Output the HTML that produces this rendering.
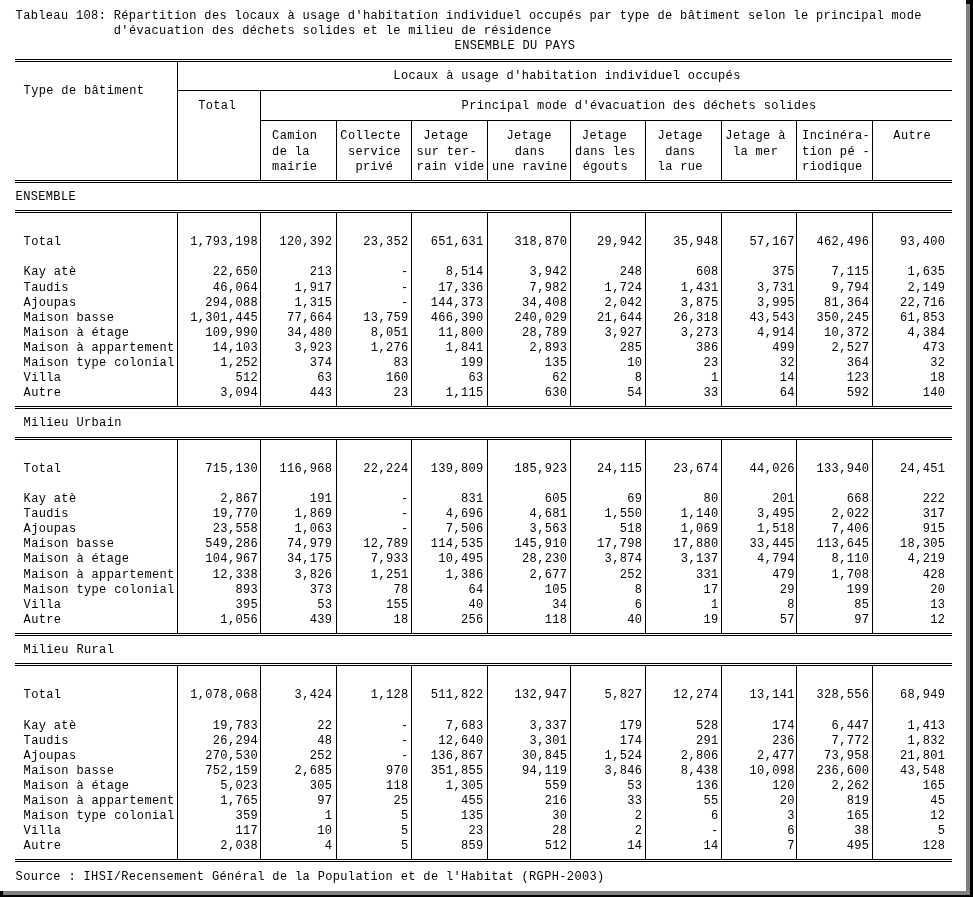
<!DOCTYPE html>
<html lang="fr"><head><meta charset="utf-8"><title>Tableau 108</title>
<style>
html,body{margin:0;padding:0;background:#000;}
body{width:973px;height:897px;position:relative;overflow:hidden;
 font-family:"Liberation Mono",monospace;font-size:12px;letter-spacing:0.35px;line-height:16px;color:#000;}
#sh{position:absolute;left:3px;top:4px;width:967px;height:891px;background:#808080;}
#pg{position:absolute;left:0;top:0;width:966px;height:891px;background:#fff;}
.t{position:absolute;white-space:pre;height:16px;}
.r{width:100px;text-align:right;}
.h{position:absolute;height:1px;background:#000;}
.v{position:absolute;width:1px;background:#000;}
</style></head>
<body>
<div id="sh"></div>
<div id="pg">
<div class="t" style="left:15.60px;top:8.00px">Tableau 108: Répartition des locaux à usage d'habitation individuel occupés par type de bâtiment selon le principal mode</div>
<div class="t" style="left:113.80px;top:23.00px">d'évacuation des déchets solides et le milieu de résidence</div>
<div class="t" style="left:454.60px;top:38.00px">ENSEMBLE DU PAYS</div>
<div class="h" style="left:15px;top:59px;width:937px"></div>
<div class="h" style="left:15px;top:61px;width:937px"></div>
<div class="h" style="left:177px;top:90px;width:775px"></div>
<div class="h" style="left:260px;top:120px;width:692px"></div>
<div class="h" style="left:15px;top:180px;width:937px"></div>
<div class="h" style="left:15px;top:182px;width:937px"></div>
<div class="v" style="left:177px;top:62px;height:118px"></div>
<div class="v" style="left:260px;top:90px;height:90px"></div>
<div class="v" style="left:336px;top:120px;height:60px"></div>
<div class="v" style="left:411px;top:120px;height:60px"></div>
<div class="v" style="left:487px;top:120px;height:60px"></div>
<div class="v" style="left:570px;top:120px;height:60px"></div>
<div class="v" style="left:645px;top:120px;height:60px"></div>
<div class="v" style="left:721px;top:120px;height:60px"></div>
<div class="v" style="left:796px;top:120px;height:60px"></div>
<div class="v" style="left:872px;top:120px;height:60px"></div>
<div class="t" style="left:23.60px;top:83.00px">Type de bâtiment</div>
<div class="t" style="left:198.20px;top:98.00px">Total</div>
<div class="t" style="left:393.35px;top:68.00px">Locaux à usage d'habitation individuel occupés</div>
<div class="t" style="left:461.60px;top:98.00px">Principal mode d'évacuation des déchets solides</div>
<div class="t" style="left:272.10px;top:128.00px">Camion</div>
<div class="t" style="left:272.10px;top:144.00px">de la</div>
<div class="t" style="left:272.10px;top:159.00px">mairie</div>
<div class="t" style="left:340.35px;top:128.00px">Collecte</div>
<div class="t" style="left:347.90px;top:144.00px">service</div>
<div class="t" style="left:355.45px;top:159.00px">privé</div>
<div class="t" style="left:423.35px;top:128.00px">Jetage</div>
<div class="t" style="left:416.60px;top:144.00px">sur ter-</div>
<div class="t" style="left:416.60px;top:159.00px">rain vide</div>
<div class="t" style="left:506.40px;top:128.00px">Jetage</div>
<div class="t" style="left:514.75px;top:144.00px">dans</div>
<div class="t" style="left:492.10px;top:159.00px">une ravine</div>
<div class="t" style="left:581.85px;top:128.00px">Jetage</div>
<div class="t" style="left:575.10px;top:144.00px">dans les</div>
<div class="t" style="left:582.65px;top:159.00px">égouts</div>
<div class="t" style="left:657.60px;top:128.00px">Jetage</div>
<div class="t" style="left:665.15px;top:144.00px">dans</div>
<div class="t" style="left:657.60px;top:159.00px">la rue</div>
<div class="t" style="left:725.35px;top:128.00px">Jetage à</div>
<div class="t" style="left:732.90px;top:144.00px">la mer</div>
<div class="t" style="left:802.10px;top:128.00px">Incinéra-</div>
<div class="t" style="left:802.10px;top:144.00px">tion pé -</div>
<div class="t" style="left:802.10px;top:159.00px">riodique</div>
<div class="t" style="left:893.35px;top:128.00px">Autre</div>
<div class="t" style="left:15.60px;top:189.00px">ENSEMBLE</div>
<div class="h" style="left:15px;top:210px;width:937px"></div>
<div class="h" style="left:15px;top:212px;width:937px"></div>
<div class="v" style="left:177px;top:212px;height:194px"></div>
<div class="v" style="left:260px;top:212px;height:194px"></div>
<div class="v" style="left:336px;top:212px;height:194px"></div>
<div class="v" style="left:411px;top:212px;height:194px"></div>
<div class="v" style="left:487px;top:212px;height:194px"></div>
<div class="v" style="left:570px;top:212px;height:194px"></div>
<div class="v" style="left:645px;top:212px;height:194px"></div>
<div class="v" style="left:721px;top:212px;height:194px"></div>
<div class="v" style="left:796px;top:212px;height:194px"></div>
<div class="v" style="left:872px;top:212px;height:194px"></div>
<div class="h" style="left:15px;top:406px;width:937px"></div>
<div class="h" style="left:15px;top:408px;width:937px"></div>
<div class="t" style="left:23.60px;top:234.00px">Total</div>
<div class="t r" style="left:158.10px;top:234.00px">1,793,198</div>
<div class="t r" style="left:232.35px;top:234.00px">120,392</div>
<div class="t r" style="left:308.60px;top:234.00px">23,352</div>
<div class="t r" style="left:383.60px;top:234.00px">651,631</div>
<div class="t r" style="left:467.35px;top:234.00px">318,870</div>
<div class="t r" style="left:542.35px;top:234.00px">29,942</div>
<div class="t r" style="left:618.60px;top:234.00px">35,948</div>
<div class="t r" style="left:694.85px;top:234.00px">57,167</div>
<div class="t r" style="left:769.35px;top:234.00px">462,496</div>
<div class="t r" style="left:845.35px;top:234.00px">93,400</div>
<div class="t" style="left:23.60px;top:264.00px">Kay atè</div>
<div class="t r" style="left:158.10px;top:264.00px">22,650</div>
<div class="t r" style="left:232.35px;top:264.00px">213</div>
<div class="t r" style="left:308.60px;top:264.00px">-</div>
<div class="t r" style="left:383.60px;top:264.00px">8,514</div>
<div class="t r" style="left:467.35px;top:264.00px">3,942</div>
<div class="t r" style="left:542.35px;top:264.00px">248</div>
<div class="t r" style="left:618.60px;top:264.00px">608</div>
<div class="t r" style="left:694.85px;top:264.00px">375</div>
<div class="t r" style="left:769.35px;top:264.00px">7,115</div>
<div class="t r" style="left:845.35px;top:264.00px">1,635</div>
<div class="t" style="left:23.60px;top:280.00px">Taudis</div>
<div class="t r" style="left:158.10px;top:280.00px">46,064</div>
<div class="t r" style="left:232.35px;top:280.00px">1,917</div>
<div class="t r" style="left:308.60px;top:280.00px">-</div>
<div class="t r" style="left:383.60px;top:280.00px">17,336</div>
<div class="t r" style="left:467.35px;top:280.00px">7,982</div>
<div class="t r" style="left:542.35px;top:280.00px">1,724</div>
<div class="t r" style="left:618.60px;top:280.00px">1,431</div>
<div class="t r" style="left:694.85px;top:280.00px">3,731</div>
<div class="t r" style="left:769.35px;top:280.00px">9,794</div>
<div class="t r" style="left:845.35px;top:280.00px">2,149</div>
<div class="t" style="left:23.60px;top:295.00px">Ajoupas</div>
<div class="t r" style="left:158.10px;top:295.00px">294,088</div>
<div class="t r" style="left:232.35px;top:295.00px">1,315</div>
<div class="t r" style="left:308.60px;top:295.00px">-</div>
<div class="t r" style="left:383.60px;top:295.00px">144,373</div>
<div class="t r" style="left:467.35px;top:295.00px">34,408</div>
<div class="t r" style="left:542.35px;top:295.00px">2,042</div>
<div class="t r" style="left:618.60px;top:295.00px">3,875</div>
<div class="t r" style="left:694.85px;top:295.00px">3,995</div>
<div class="t r" style="left:769.35px;top:295.00px">81,364</div>
<div class="t r" style="left:845.35px;top:295.00px">22,716</div>
<div class="t" style="left:23.60px;top:310.00px">Maison basse</div>
<div class="t r" style="left:158.10px;top:310.00px">1,301,445</div>
<div class="t r" style="left:232.35px;top:310.00px">77,664</div>
<div class="t r" style="left:308.60px;top:310.00px">13,759</div>
<div class="t r" style="left:383.60px;top:310.00px">466,390</div>
<div class="t r" style="left:467.35px;top:310.00px">240,029</div>
<div class="t r" style="left:542.35px;top:310.00px">21,644</div>
<div class="t r" style="left:618.60px;top:310.00px">26,318</div>
<div class="t r" style="left:694.85px;top:310.00px">43,543</div>
<div class="t r" style="left:769.35px;top:310.00px">350,245</div>
<div class="t r" style="left:845.35px;top:310.00px">61,853</div>
<div class="t" style="left:23.60px;top:325.00px">Maison à étage</div>
<div class="t r" style="left:158.10px;top:325.00px">109,990</div>
<div class="t r" style="left:232.35px;top:325.00px">34,480</div>
<div class="t r" style="left:308.60px;top:325.00px">8,051</div>
<div class="t r" style="left:383.60px;top:325.00px">11,800</div>
<div class="t r" style="left:467.35px;top:325.00px">28,789</div>
<div class="t r" style="left:542.35px;top:325.00px">3,927</div>
<div class="t r" style="left:618.60px;top:325.00px">3,273</div>
<div class="t r" style="left:694.85px;top:325.00px">4,914</div>
<div class="t r" style="left:769.35px;top:325.00px">10,372</div>
<div class="t r" style="left:845.35px;top:325.00px">4,384</div>
<div class="t" style="left:23.60px;top:340.00px">Maison à appartement</div>
<div class="t r" style="left:158.10px;top:340.00px">14,103</div>
<div class="t r" style="left:232.35px;top:340.00px">3,923</div>
<div class="t r" style="left:308.60px;top:340.00px">1,276</div>
<div class="t r" style="left:383.60px;top:340.00px">1,841</div>
<div class="t r" style="left:467.35px;top:340.00px">2,893</div>
<div class="t r" style="left:542.35px;top:340.00px">285</div>
<div class="t r" style="left:618.60px;top:340.00px">386</div>
<div class="t r" style="left:694.85px;top:340.00px">499</div>
<div class="t r" style="left:769.35px;top:340.00px">2,527</div>
<div class="t r" style="left:845.35px;top:340.00px">473</div>
<div class="t" style="left:23.60px;top:355.00px">Maison type colonial</div>
<div class="t r" style="left:158.10px;top:355.00px">1,252</div>
<div class="t r" style="left:232.35px;top:355.00px">374</div>
<div class="t r" style="left:308.60px;top:355.00px">83</div>
<div class="t r" style="left:383.60px;top:355.00px">199</div>
<div class="t r" style="left:467.35px;top:355.00px">135</div>
<div class="t r" style="left:542.35px;top:355.00px">10</div>
<div class="t r" style="left:618.60px;top:355.00px">23</div>
<div class="t r" style="left:694.85px;top:355.00px">32</div>
<div class="t r" style="left:769.35px;top:355.00px">364</div>
<div class="t r" style="left:845.35px;top:355.00px">32</div>
<div class="t" style="left:23.60px;top:370.00px">Villa</div>
<div class="t r" style="left:158.10px;top:370.00px">512</div>
<div class="t r" style="left:232.35px;top:370.00px">63</div>
<div class="t r" style="left:308.60px;top:370.00px">160</div>
<div class="t r" style="left:383.60px;top:370.00px">63</div>
<div class="t r" style="left:467.35px;top:370.00px">62</div>
<div class="t r" style="left:542.35px;top:370.00px">8</div>
<div class="t r" style="left:618.60px;top:370.00px">1</div>
<div class="t r" style="left:694.85px;top:370.00px">14</div>
<div class="t r" style="left:769.35px;top:370.00px">123</div>
<div class="t r" style="left:845.35px;top:370.00px">18</div>
<div class="t" style="left:23.60px;top:385.00px">Autre</div>
<div class="t r" style="left:158.10px;top:385.00px">3,094</div>
<div class="t r" style="left:232.35px;top:385.00px">443</div>
<div class="t r" style="left:308.60px;top:385.00px">23</div>
<div class="t r" style="left:383.60px;top:385.00px">1,115</div>
<div class="t r" style="left:467.35px;top:385.00px">630</div>
<div class="t r" style="left:542.35px;top:385.00px">54</div>
<div class="t r" style="left:618.60px;top:385.00px">33</div>
<div class="t r" style="left:694.85px;top:385.00px">64</div>
<div class="t r" style="left:769.35px;top:385.00px">592</div>
<div class="t r" style="left:845.35px;top:385.00px">140</div>
<div class="t" style="left:23.60px;top:415.00px">Milieu Urbain</div>
<div class="h" style="left:15px;top:437px;width:937px"></div>
<div class="h" style="left:15px;top:439px;width:937px"></div>
<div class="v" style="left:177px;top:439px;height:194px"></div>
<div class="v" style="left:260px;top:439px;height:194px"></div>
<div class="v" style="left:336px;top:439px;height:194px"></div>
<div class="v" style="left:411px;top:439px;height:194px"></div>
<div class="v" style="left:487px;top:439px;height:194px"></div>
<div class="v" style="left:570px;top:439px;height:194px"></div>
<div class="v" style="left:645px;top:439px;height:194px"></div>
<div class="v" style="left:721px;top:439px;height:194px"></div>
<div class="v" style="left:796px;top:439px;height:194px"></div>
<div class="v" style="left:872px;top:439px;height:194px"></div>
<div class="h" style="left:15px;top:633px;width:937px"></div>
<div class="h" style="left:15px;top:635px;width:937px"></div>
<div class="t" style="left:23.60px;top:461.00px">Total</div>
<div class="t r" style="left:158.10px;top:461.00px">715,130</div>
<div class="t r" style="left:232.35px;top:461.00px">116,968</div>
<div class="t r" style="left:308.60px;top:461.00px">22,224</div>
<div class="t r" style="left:383.60px;top:461.00px">139,809</div>
<div class="t r" style="left:467.35px;top:461.00px">185,923</div>
<div class="t r" style="left:542.35px;top:461.00px">24,115</div>
<div class="t r" style="left:618.60px;top:461.00px">23,674</div>
<div class="t r" style="left:694.85px;top:461.00px">44,026</div>
<div class="t r" style="left:769.35px;top:461.00px">133,940</div>
<div class="t r" style="left:845.35px;top:461.00px">24,451</div>
<div class="t" style="left:23.60px;top:491.00px">Kay atè</div>
<div class="t r" style="left:158.10px;top:491.00px">2,867</div>
<div class="t r" style="left:232.35px;top:491.00px">191</div>
<div class="t r" style="left:308.60px;top:491.00px">-</div>
<div class="t r" style="left:383.60px;top:491.00px">831</div>
<div class="t r" style="left:467.35px;top:491.00px">605</div>
<div class="t r" style="left:542.35px;top:491.00px">69</div>
<div class="t r" style="left:618.60px;top:491.00px">80</div>
<div class="t r" style="left:694.85px;top:491.00px">201</div>
<div class="t r" style="left:769.35px;top:491.00px">668</div>
<div class="t r" style="left:845.35px;top:491.00px">222</div>
<div class="t" style="left:23.60px;top:506.00px">Taudis</div>
<div class="t r" style="left:158.10px;top:506.00px">19,770</div>
<div class="t r" style="left:232.35px;top:506.00px">1,869</div>
<div class="t r" style="left:308.60px;top:506.00px">-</div>
<div class="t r" style="left:383.60px;top:506.00px">4,696</div>
<div class="t r" style="left:467.35px;top:506.00px">4,681</div>
<div class="t r" style="left:542.35px;top:506.00px">1,550</div>
<div class="t r" style="left:618.60px;top:506.00px">1,140</div>
<div class="t r" style="left:694.85px;top:506.00px">3,495</div>
<div class="t r" style="left:769.35px;top:506.00px">2,022</div>
<div class="t r" style="left:845.35px;top:506.00px">317</div>
<div class="t" style="left:23.60px;top:521.00px">Ajoupas</div>
<div class="t r" style="left:158.10px;top:521.00px">23,558</div>
<div class="t r" style="left:232.35px;top:521.00px">1,063</div>
<div class="t r" style="left:308.60px;top:521.00px">-</div>
<div class="t r" style="left:383.60px;top:521.00px">7,506</div>
<div class="t r" style="left:467.35px;top:521.00px">3,563</div>
<div class="t r" style="left:542.35px;top:521.00px">518</div>
<div class="t r" style="left:618.60px;top:521.00px">1,069</div>
<div class="t r" style="left:694.85px;top:521.00px">1,518</div>
<div class="t r" style="left:769.35px;top:521.00px">7,406</div>
<div class="t r" style="left:845.35px;top:521.00px">915</div>
<div class="t" style="left:23.60px;top:536.00px">Maison basse</div>
<div class="t r" style="left:158.10px;top:536.00px">549,286</div>
<div class="t r" style="left:232.35px;top:536.00px">74,979</div>
<div class="t r" style="left:308.60px;top:536.00px">12,789</div>
<div class="t r" style="left:383.60px;top:536.00px">114,535</div>
<div class="t r" style="left:467.35px;top:536.00px">145,910</div>
<div class="t r" style="left:542.35px;top:536.00px">17,798</div>
<div class="t r" style="left:618.60px;top:536.00px">17,880</div>
<div class="t r" style="left:694.85px;top:536.00px">33,445</div>
<div class="t r" style="left:769.35px;top:536.00px">113,645</div>
<div class="t r" style="left:845.35px;top:536.00px">18,305</div>
<div class="t" style="left:23.60px;top:551.00px">Maison à étage</div>
<div class="t r" style="left:158.10px;top:551.00px">104,967</div>
<div class="t r" style="left:232.35px;top:551.00px">34,175</div>
<div class="t r" style="left:308.60px;top:551.00px">7,933</div>
<div class="t r" style="left:383.60px;top:551.00px">10,495</div>
<div class="t r" style="left:467.35px;top:551.00px">28,230</div>
<div class="t r" style="left:542.35px;top:551.00px">3,874</div>
<div class="t r" style="left:618.60px;top:551.00px">3,137</div>
<div class="t r" style="left:694.85px;top:551.00px">4,794</div>
<div class="t r" style="left:769.35px;top:551.00px">8,110</div>
<div class="t r" style="left:845.35px;top:551.00px">4,219</div>
<div class="t" style="left:23.60px;top:567.00px">Maison à appartement</div>
<div class="t r" style="left:158.10px;top:567.00px">12,338</div>
<div class="t r" style="left:232.35px;top:567.00px">3,826</div>
<div class="t r" style="left:308.60px;top:567.00px">1,251</div>
<div class="t r" style="left:383.60px;top:567.00px">1,386</div>
<div class="t r" style="left:467.35px;top:567.00px">2,677</div>
<div class="t r" style="left:542.35px;top:567.00px">252</div>
<div class="t r" style="left:618.60px;top:567.00px">331</div>
<div class="t r" style="left:694.85px;top:567.00px">479</div>
<div class="t r" style="left:769.35px;top:567.00px">1,708</div>
<div class="t r" style="left:845.35px;top:567.00px">428</div>
<div class="t" style="left:23.60px;top:582.00px">Maison type colonial</div>
<div class="t r" style="left:158.10px;top:582.00px">893</div>
<div class="t r" style="left:232.35px;top:582.00px">373</div>
<div class="t r" style="left:308.60px;top:582.00px">78</div>
<div class="t r" style="left:383.60px;top:582.00px">64</div>
<div class="t r" style="left:467.35px;top:582.00px">105</div>
<div class="t r" style="left:542.35px;top:582.00px">8</div>
<div class="t r" style="left:618.60px;top:582.00px">17</div>
<div class="t r" style="left:694.85px;top:582.00px">29</div>
<div class="t r" style="left:769.35px;top:582.00px">199</div>
<div class="t r" style="left:845.35px;top:582.00px">20</div>
<div class="t" style="left:23.60px;top:597.00px">Villa</div>
<div class="t r" style="left:158.10px;top:597.00px">395</div>
<div class="t r" style="left:232.35px;top:597.00px">53</div>
<div class="t r" style="left:308.60px;top:597.00px">155</div>
<div class="t r" style="left:383.60px;top:597.00px">40</div>
<div class="t r" style="left:467.35px;top:597.00px">34</div>
<div class="t r" style="left:542.35px;top:597.00px">6</div>
<div class="t r" style="left:618.60px;top:597.00px">1</div>
<div class="t r" style="left:694.85px;top:597.00px">8</div>
<div class="t r" style="left:769.35px;top:597.00px">85</div>
<div class="t r" style="left:845.35px;top:597.00px">13</div>
<div class="t" style="left:23.60px;top:612.00px">Autre</div>
<div class="t r" style="left:158.10px;top:612.00px">1,056</div>
<div class="t r" style="left:232.35px;top:612.00px">439</div>
<div class="t r" style="left:308.60px;top:612.00px">18</div>
<div class="t r" style="left:383.60px;top:612.00px">256</div>
<div class="t r" style="left:467.35px;top:612.00px">118</div>
<div class="t r" style="left:542.35px;top:612.00px">40</div>
<div class="t r" style="left:618.60px;top:612.00px">19</div>
<div class="t r" style="left:694.85px;top:612.00px">57</div>
<div class="t r" style="left:769.35px;top:612.00px">97</div>
<div class="t r" style="left:845.35px;top:612.00px">12</div>
<div class="t" style="left:23.60px;top:642.00px">Milieu Rural</div>
<div class="h" style="left:15px;top:663px;width:937px"></div>
<div class="h" style="left:15px;top:665px;width:937px"></div>
<div class="v" style="left:177px;top:665px;height:194px"></div>
<div class="v" style="left:260px;top:665px;height:194px"></div>
<div class="v" style="left:336px;top:665px;height:194px"></div>
<div class="v" style="left:411px;top:665px;height:194px"></div>
<div class="v" style="left:487px;top:665px;height:194px"></div>
<div class="v" style="left:570px;top:665px;height:194px"></div>
<div class="v" style="left:645px;top:665px;height:194px"></div>
<div class="v" style="left:721px;top:665px;height:194px"></div>
<div class="v" style="left:796px;top:665px;height:194px"></div>
<div class="v" style="left:872px;top:665px;height:194px"></div>
<div class="h" style="left:15px;top:859px;width:937px"></div>
<div class="h" style="left:15px;top:861px;width:937px"></div>
<div class="t" style="left:23.60px;top:687.00px">Total</div>
<div class="t r" style="left:158.10px;top:687.00px">1,078,068</div>
<div class="t r" style="left:232.35px;top:687.00px">3,424</div>
<div class="t r" style="left:308.60px;top:687.00px">1,128</div>
<div class="t r" style="left:383.60px;top:687.00px">511,822</div>
<div class="t r" style="left:467.35px;top:687.00px">132,947</div>
<div class="t r" style="left:542.35px;top:687.00px">5,827</div>
<div class="t r" style="left:618.60px;top:687.00px">12,274</div>
<div class="t r" style="left:694.85px;top:687.00px">13,141</div>
<div class="t r" style="left:769.35px;top:687.00px">328,556</div>
<div class="t r" style="left:845.35px;top:687.00px">68,949</div>
<div class="t" style="left:23.60px;top:718.00px">Kay atè</div>
<div class="t r" style="left:158.10px;top:718.00px">19,783</div>
<div class="t r" style="left:232.35px;top:718.00px">22</div>
<div class="t r" style="left:308.60px;top:718.00px">-</div>
<div class="t r" style="left:383.60px;top:718.00px">7,683</div>
<div class="t r" style="left:467.35px;top:718.00px">3,337</div>
<div class="t r" style="left:542.35px;top:718.00px">179</div>
<div class="t r" style="left:618.60px;top:718.00px">528</div>
<div class="t r" style="left:694.85px;top:718.00px">174</div>
<div class="t r" style="left:769.35px;top:718.00px">6,447</div>
<div class="t r" style="left:845.35px;top:718.00px">1,413</div>
<div class="t" style="left:23.60px;top:733.00px">Taudis</div>
<div class="t r" style="left:158.10px;top:733.00px">26,294</div>
<div class="t r" style="left:232.35px;top:733.00px">48</div>
<div class="t r" style="left:308.60px;top:733.00px">-</div>
<div class="t r" style="left:383.60px;top:733.00px">12,640</div>
<div class="t r" style="left:467.35px;top:733.00px">3,301</div>
<div class="t r" style="left:542.35px;top:733.00px">174</div>
<div class="t r" style="left:618.60px;top:733.00px">291</div>
<div class="t r" style="left:694.85px;top:733.00px">236</div>
<div class="t r" style="left:769.35px;top:733.00px">7,772</div>
<div class="t r" style="left:845.35px;top:733.00px">1,832</div>
<div class="t" style="left:23.60px;top:748.00px">Ajoupas</div>
<div class="t r" style="left:158.10px;top:748.00px">270,530</div>
<div class="t r" style="left:232.35px;top:748.00px">252</div>
<div class="t r" style="left:308.60px;top:748.00px">-</div>
<div class="t r" style="left:383.60px;top:748.00px">136,867</div>
<div class="t r" style="left:467.35px;top:748.00px">30,845</div>
<div class="t r" style="left:542.35px;top:748.00px">1,524</div>
<div class="t r" style="left:618.60px;top:748.00px">2,806</div>
<div class="t r" style="left:694.85px;top:748.00px">2,477</div>
<div class="t r" style="left:769.35px;top:748.00px">73,958</div>
<div class="t r" style="left:845.35px;top:748.00px">21,801</div>
<div class="t" style="left:23.60px;top:763.00px">Maison basse</div>
<div class="t r" style="left:158.10px;top:763.00px">752,159</div>
<div class="t r" style="left:232.35px;top:763.00px">2,685</div>
<div class="t r" style="left:308.60px;top:763.00px">970</div>
<div class="t r" style="left:383.60px;top:763.00px">351,855</div>
<div class="t r" style="left:467.35px;top:763.00px">94,119</div>
<div class="t r" style="left:542.35px;top:763.00px">3,846</div>
<div class="t r" style="left:618.60px;top:763.00px">8,438</div>
<div class="t r" style="left:694.85px;top:763.00px">10,098</div>
<div class="t r" style="left:769.35px;top:763.00px">236,600</div>
<div class="t r" style="left:845.35px;top:763.00px">43,548</div>
<div class="t" style="left:23.60px;top:778.00px">Maison à étage</div>
<div class="t r" style="left:158.10px;top:778.00px">5,023</div>
<div class="t r" style="left:232.35px;top:778.00px">305</div>
<div class="t r" style="left:308.60px;top:778.00px">118</div>
<div class="t r" style="left:383.60px;top:778.00px">1,305</div>
<div class="t r" style="left:467.35px;top:778.00px">559</div>
<div class="t r" style="left:542.35px;top:778.00px">53</div>
<div class="t r" style="left:618.60px;top:778.00px">136</div>
<div class="t r" style="left:694.85px;top:778.00px">120</div>
<div class="t r" style="left:769.35px;top:778.00px">2,262</div>
<div class="t r" style="left:845.35px;top:778.00px">165</div>
<div class="t" style="left:23.60px;top:793.00px">Maison à appartement</div>
<div class="t r" style="left:158.10px;top:793.00px">1,765</div>
<div class="t r" style="left:232.35px;top:793.00px">97</div>
<div class="t r" style="left:308.60px;top:793.00px">25</div>
<div class="t r" style="left:383.60px;top:793.00px">455</div>
<div class="t r" style="left:467.35px;top:793.00px">216</div>
<div class="t r" style="left:542.35px;top:793.00px">33</div>
<div class="t r" style="left:618.60px;top:793.00px">55</div>
<div class="t r" style="left:694.85px;top:793.00px">20</div>
<div class="t r" style="left:769.35px;top:793.00px">819</div>
<div class="t r" style="left:845.35px;top:793.00px">45</div>
<div class="t" style="left:23.60px;top:808.00px">Maison type colonial</div>
<div class="t r" style="left:158.10px;top:808.00px">359</div>
<div class="t r" style="left:232.35px;top:808.00px">1</div>
<div class="t r" style="left:308.60px;top:808.00px">5</div>
<div class="t r" style="left:383.60px;top:808.00px">135</div>
<div class="t r" style="left:467.35px;top:808.00px">30</div>
<div class="t r" style="left:542.35px;top:808.00px">2</div>
<div class="t r" style="left:618.60px;top:808.00px">6</div>
<div class="t r" style="left:694.85px;top:808.00px">3</div>
<div class="t r" style="left:769.35px;top:808.00px">165</div>
<div class="t r" style="left:845.35px;top:808.00px">12</div>
<div class="t" style="left:23.60px;top:823.00px">Villa</div>
<div class="t r" style="left:158.10px;top:823.00px">117</div>
<div class="t r" style="left:232.35px;top:823.00px">10</div>
<div class="t r" style="left:308.60px;top:823.00px">5</div>
<div class="t r" style="left:383.60px;top:823.00px">23</div>
<div class="t r" style="left:467.35px;top:823.00px">28</div>
<div class="t r" style="left:542.35px;top:823.00px">2</div>
<div class="t r" style="left:618.60px;top:823.00px">-</div>
<div class="t r" style="left:694.85px;top:823.00px">6</div>
<div class="t r" style="left:769.35px;top:823.00px">38</div>
<div class="t r" style="left:845.35px;top:823.00px">5</div>
<div class="t" style="left:23.60px;top:838.00px">Autre</div>
<div class="t r" style="left:158.10px;top:838.00px">2,038</div>
<div class="t r" style="left:232.35px;top:838.00px">4</div>
<div class="t r" style="left:308.60px;top:838.00px">5</div>
<div class="t r" style="left:383.60px;top:838.00px">859</div>
<div class="t r" style="left:467.35px;top:838.00px">512</div>
<div class="t r" style="left:542.35px;top:838.00px">14</div>
<div class="t r" style="left:618.60px;top:838.00px">14</div>
<div class="t r" style="left:694.85px;top:838.00px">7</div>
<div class="t r" style="left:769.35px;top:838.00px">495</div>
<div class="t r" style="left:845.35px;top:838.00px">128</div>
<div class="t" style="left:15.60px;top:869.00px">Source : IHSI/Recensement Général de la Population et de l'Habitat (RGPH-2003)</div>
</div>
</body></html>
